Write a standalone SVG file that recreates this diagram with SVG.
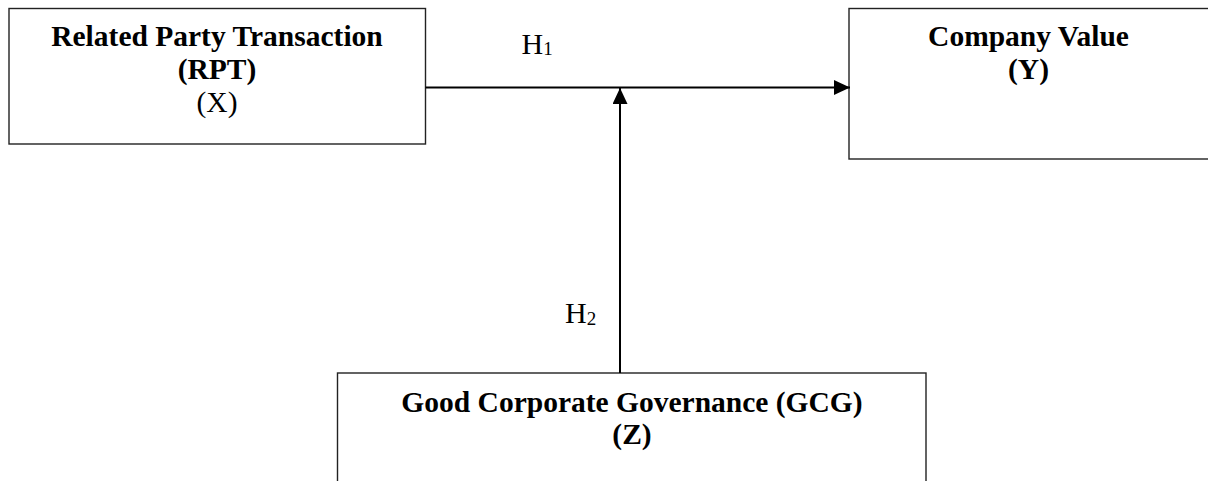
<svg xmlns="http://www.w3.org/2000/svg" width="1208" height="481" viewBox="0 0 1208 481">
<style>
.box{fill:#fff;stroke:#222;stroke-width:1.4}
.t{font-family:"Liberation Serif","Times New Roman",serif;font-size:29.5px;text-anchor:middle;fill:#000}
.b{font-weight:bold}
.h{font-family:"Liberation Serif","Times New Roman",serif;font-size:30px;fill:#000}
.sub{font-size:19px}
.ln{stroke:#000;stroke-width:2;fill:none}
</style>
<defs>
<marker id="ah" markerWidth="16" markerHeight="15" refX="16" refY="7.5" orient="auto" markerUnits="userSpaceOnUse">
<path d="M0,0 L16,7.5 L0,15 Z" fill="#000"/>
</marker>
</defs>
<rect width="1208" height="481" fill="#fff"/>
<g id="node-rpt">
<rect class="box" x="9" y="8.5" width="416.5" height="135.5"/>
<text class="t b" x="217" y="46">Related Party Transaction</text>
<text class="t b" x="217" y="79">(RPT)</text>
<text class="t" x="217" y="112">(X)</text>
</g>
<g id="node-value">
<rect class="box" x="849" y="8.5" width="370" height="150.5"/>
<text class="t b" x="1028.5" y="46">Company Value</text>
<text class="t b" x="1028.5" y="79">(Y)</text>
</g>
<g id="node-gcg">
<rect class="box" x="337.5" y="373" width="588.5" height="130"/>
<text class="t b" x="632" y="412">Good Corporate Governance (GCG)</text>
<text class="t b" x="632" y="444">(Z)</text>
</g>
<g id="connectors">
<line class="ln" x1="425.5" y1="87.5" x2="850" y2="87.5" marker-end="url(#ah)"/>
<line class="ln" x1="620" y1="373" x2="620" y2="88" marker-end="url(#ah)"/>
<text class="h" x="521.5" y="53.5">H<tspan class="sub" dy="1">1</tspan></text>
<text class="h" x="565" y="323">H<tspan class="sub" dy="1.5">2</tspan></text>
</g>
</svg>
